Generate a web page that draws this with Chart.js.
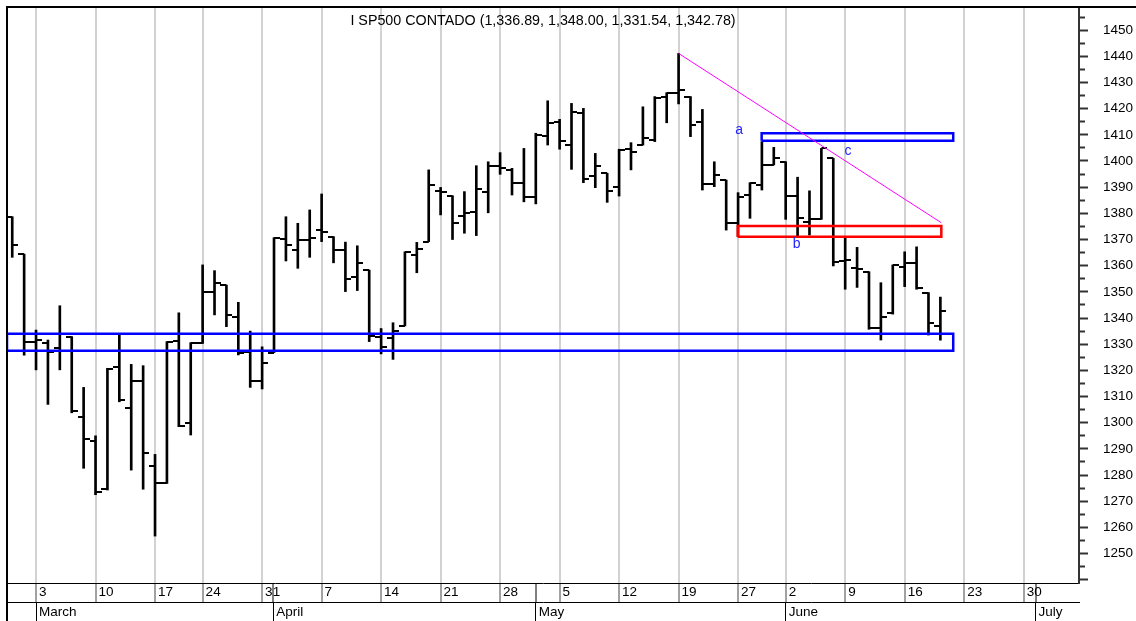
<!DOCTYPE html>
<html lang="es">
<head>
<meta charset="utf-8">
<title>I SP500 CONTADO</title>
<script src="https://cdn.jsdelivr.net/npm/chart.js@4.4.1/dist/chart.umd.min.js"></script>
<style>
  html, body { margin: 0; padding: 0; background: #ffffff; }
  #grafico { display: block; }
</style>
</head>
<body>
<canvas id="grafico" width="1136" height="621"></canvas>
<script>
// Sesiones diarias (0 = 1 de marzo), OHLC
const aperturas = [1378.5, 1364.4, 1331.0, 1330.3, 1328.5, 1332.9, 1302.1, 1293.0, 1274.5, 1321.2,
  1305.5, 1316.1, 1283.6, 1276.8, 1331.3, 1300.0, 1330.3, 1349.8, 1352.6, 1340.5,
  1327.1, 1316.0, 1326.8, 1370.2, 1366.0, 1370.0, 1373.6, 1371.1, 1366.0, 1355.8,
  1358.3, 1332.9, 1332.2, 1337.0, 1364.1, 1369.2, 1388.7, 1386.7, 1379.0, 1380.6,
  1388.3, 1398.1, 1396.6, 1391.5, 1386.2, 1409.5, 1415.0, 1406.1, 1418.2, 1394.3,
  1395.3, 1389.9, 1404.5, 1406.1, 1408.0, 1424.6, 1426.1, 1424.6, 1415.0, 1391.2,
  1392.7, 1376.2, 1387.0, 1390.8, 1398.5, 1399.7, 1386.6, 1376.8, 1377.7, 1401.0,
  1361.9, 1359.2, 1357.7, 1336.1, 1342.0, 1359.6, 1361.1, 1349.7, 1336.89];
const maximos = [1378.7, 1364.4, 1335.4, 1331.6, 1344.7, 1332.9, 1313.5, 1295.0, 1320.8, 1333.9,
  1322.3, 1321.8, 1287.9, 1331.0, 1342.0, 1330.6, 1360.3, 1358.1, 1352.6, 1346.0,
  1335.0, 1329.0, 1370.7, 1378.7, 1376.2, 1381.3, 1387.4, 1371.1, 1369.0, 1367.6,
  1358.3, 1336.0, 1338.2, 1365.3, 1368.9, 1396.6, 1389.9, 1386.7, 1388.3, 1398.2,
  1399.7, 1403.2, 1397.2, 1404.8, 1410.6, 1423.0, 1415.9, 1422.0, 1420.1, 1402.9,
  1395.3, 1404.5, 1407.0, 1420.7, 1424.6, 1426.1, 1441.1, 1424.6, 1419.7, 1399.7,
  1392.7, 1387.9, 1391.7, 1407.4, 1405.2, 1399.7, 1393.8, 1388.6, 1404.8, 1401.0,
  1371.1, 1367.0, 1357.7, 1353.5, 1360.3, 1365.3, 1367.2, 1349.7, 1348.00];
const minimos = [1363.2, 1325.8, 1320.2, 1307.0, 1320.2, 1303.8, 1282.6, 1272.5, 1274.3, 1308.0,
  1281.9, 1274.6, 1256.7, 1276.8, 1298.5, 1295.3, 1330.3, 1341.2, 1336.7, 1325.9,
  1313.5, 1312.9, 1326.8, 1361.8, 1359.0, 1363.2, 1369.2, 1361.1, 1350.1, 1350.5,
  1331.0, 1326.3, 1324.2, 1337.0, 1357.3, 1369.2, 1379.4, 1370.0, 1372.4, 1371.5,
  1380.2, 1394.9, 1387.0, 1384.4, 1383.6, 1406.1, 1404.5, 1396.8, 1391.7, 1389.8,
  1384.2, 1386.6, 1396.6, 1406.1, 1407.4, 1414.6, 1421.8, 1409.3, 1388.9, 1390.2,
  1373.6, 1371.1, 1378.1, 1388.9, 1398.5, 1377.7, 1371.3, 1371.7, 1377.7, 1359.9,
  1351.0, 1351.7, 1335.7, 1331.6, 1341.5, 1352.0, 1351.0, 1333.5, 1331.54];
const cierres = [1368.0, 1331.0, 1331.5, 1327.1, 1327.5, 1304.5, 1293.6, 1273.5, 1320.5, 1308.7,
  1316.1, 1288.3, 1276.8, 1331.0, 1298.8, 1330.3, 1350.1, 1353.3, 1341.2, 1326.5,
  1316.0, 1322.9, 1370.7, 1367.9, 1369.8, 1370.7, 1373.0, 1366.0, 1354.8, 1361.1,
  1333.1, 1328.8, 1335.2, 1365.3, 1366.3, 1390.8, 1388.3, 1376.2, 1380.2, 1389.2,
  1398.1, 1397.2, 1391.5, 1386.4, 1409.9, 1414.4, 1407.7, 1418.8, 1393.0, 1398.1,
  1388.5, 1404.2, 1403.5, 1408.9, 1424.2, 1426.1, 1427.1, 1413.7, 1391.2, 1394.6,
  1376.2, 1386.4, 1391.5, 1398.5, 1401.0, 1386.6, 1378.1, 1377.7, 1404.8, 1361.5,
  1362.2, 1358.6, 1336.1, 1340.3, 1360.3, 1361.1, 1351.3, 1338.2, 1342.78];

// lineas semanales del eje de fechas
const semanasIdx = [2, 7, 12, 16, 21, 26, 31, 36, 41, 46, 51, 56, 61, 65, 70, 75, 80, 85];
const semanasTxt = ['3', '10', '17', '24', '31', '7', '14', '21', '28', '5', '12', '19', '27', '2', '9', '16', '23', '30'];
// separadores de mes
const mesesIdx = [2, 21.94, 44, 65, 86];
const mesesTxt = ['March', 'April', 'May', 'June', 'July'];

// zonas dibujadas: [desde, hasta, inferior, superior]
const zonaSoporte = [-0.44, 79.08, 1327.5, 1334.0];
const zonaAzul = [62.98, 79.08, 1407.75, 1410.6];
const zonaRoja = [60.97, 78.08, 1371.1, 1375.2];
// directriz bajista
const directrizX = [56, 78.08];
const directrizY = [1441.1, 1376.4];
// letras a, b, c
const letras = ['a', 'b', 'c'];
const letrasX = [61.08, 65.92, 70.24];
const letrasY = [1410.3, 1366.6, 1402.3];

const titulo = 'I SP500 CONTADO (1,336.89, 1,348.00, 1,331.54, 1,342.78)';
const fuente = 'Arial, "Liberation Sans", Helvetica, sans-serif';

Chart.defaults.font.family = fuente;
Chart.defaults.color = '#000';

function caja(z) {
  return [
    {x: z[0], y: z[2]}, {x: z[1], y: z[2]}, {x: z[1], y: z[3]},
    {x: z[0], y: z[3]}, {x: z[0], y: z[2]}
  ];
}

// marca horizontal de apertura (izquierda) o cierre (derecha)
function marca(lado) {
  const c = document.createElement('canvas');
  c.width = 12;
  c.height = 2;
  const g = c.getContext('2d');
  g.fillStyle = '#000';
  g.fillRect(lado === 'izq' ? 0 : 6, 0, 6, 2);
  return c;
}

const ticksFecha = semanasIdx.concat([21.94, 44, 86]).sort((a, b) => a - b);

const marco = {
  id: 'marco',
  afterDatasetsDraw(chart) {
    const {ctx} = chart;
    const xs = chart.scales.x;
    const ys = chart.scales.y;
    ctx.save();
    ctx.font = '14px ' + fuente;
    ctx.fillStyle = '#2424ff';
    ctx.textAlign = 'center';
    ctx.textBaseline = 'alphabetic';
    letras.forEach((t, i) => {
      ctx.fillText(t, xs.getPixelForValue(letrasX[i]), ys.getPixelForValue(letrasY[i]));
    });
    ctx.restore();
  },
  afterDraw(chart) {
    const {ctx, chartArea, width, height} = chart;
    ctx.save();
    ctx.strokeStyle = '#000';
    ctx.lineWidth = 2;
    ctx.beginPath();
    ctx.moveTo(chartArea.left, height);
    ctx.lineTo(chartArea.left, chartArea.top);
    ctx.lineTo(width, chartArea.top);
    ctx.stroke();
    ctx.font = '14.3px ' + fuente;
    ctx.fillStyle = '#000';
    ctx.textAlign = 'center';
    ctx.textBaseline = 'middle';
    ctx.fillText(titulo, (chartArea.left + chartArea.right) / 2, chartArea.top + 14);
    ctx.restore();
  }
};

const lineaZona = (z, color, orden) => ({
  type: 'line',
  data: caja(z),
  borderColor: color,
  borderWidth: 2.5,
  borderJoinStyle: 'miter',
  pointRadius: 0,
  fill: false,
  tension: 0,
  order: orden
});

new Chart(document.getElementById('grafico'), {
  type: 'bar',
  data: {
    datasets: [
      {
        type: 'bar',
        data: maximos.map((h, i) => ({x: i, y: [minimos[i], h]})),
        backgroundColor: '#000',
        borderWidth: 0,
        barThickness: 2,
        grouped: false,
        order: 3
      },
      {
        type: 'scatter',
        data: aperturas.map((v, i) => ({x: i, y: v})),
        pointStyle: marca('izq'),
        pointRadius: 3,
        pointHoverRadius: 3,
        order: 2
      },
      {
        type: 'scatter',
        data: cierres.map((v, i) => ({x: i, y: v})),
        pointStyle: marca('der'),
        pointRadius: 3,
        pointHoverRadius: 3,
        order: 2
      },
      lineaZona(zonaSoporte, '#0000ff', 1),
      lineaZona(zonaAzul, '#0000ff', 1),
      lineaZona(zonaRoja, '#ff0000', 1),
      {
        type: 'line',
        data: directrizX.map((x, i) => ({x: x, y: directrizY[i]})),
        borderColor: '#ff00ff',
        borderWidth: 1,
        pointRadius: 0,
        fill: false,
        order: 0
      }
    ]
  },
  options: {
    responsive: false,
    animation: false,
    events: [],
    layout: { padding: { left: 7, top: 7, right: 0, bottom: 0 } },
    plugins: {
      legend: { display: false },
      tooltip: { enabled: false }
    },
    scales: {
      x: {
        type: 'linear',
        position: 'bottom',
        weight: 0,
        min: -0.44,
        max: 89.65,
        bounds: 'data',
        offset: false,
        afterBuildTicks: s => { s.ticks = ticksFecha.map(v => ({value: v})); },
        afterFit: s => { s.height = 19; s.paddingLeft = 0; s.paddingRight = 0; },
        grid: {
          offset: false,
          lineWidth: 2,
          color: c => semanasIdx.includes(c.tick.value) ? '#d2d2d2' : 'rgba(0,0,0,0)',
          drawTicks: true,
          tickLength: 19,
          tickWidth: 1,
          tickColor: c => semanasIdx.includes(c.tick.value) ? '#444' : '#000'
        },
        border: { display: true, color: '#000', width: 1 },
        ticks: {
          autoSkip: false,
          maxRotation: 0,
          minRotation: 0,
          align: 'start',
          labelOffset: 3,
          padding: -17.9,
          font: { size: 13.5 },
          callback: v => {
            const k = semanasIdx.indexOf(v);
            return k >= 0 ? semanasTxt[k] : '';
          }
        }
      },
      xMes: {
        type: 'linear',
        position: 'bottom',
        weight: 1,
        min: -0.44,
        max: 89.65,
        bounds: 'data',
        offset: false,
        afterBuildTicks: s => { s.ticks = mesesIdx.map(v => ({value: v})); },
        afterFit: s => { s.height = 19; s.paddingLeft = 0; s.paddingRight = 0; },
        grid: {
          offset: false,
          drawOnChartArea: false,
          drawTicks: true,
          tickLength: 19,
          tickWidth: 1,
          tickColor: '#000'
        },
        border: { display: true, color: '#000', width: 1 },
        ticks: {
          autoSkip: false,
          maxRotation: 0,
          minRotation: 0,
          align: 'start',
          labelOffset: 3,
          padding: -17.3,
          font: { size: 13.5 },
          callback: v => {
            const k = mesesIdx.indexOf(v);
            return k >= 0 ? mesesTxt[k] : '';
          }
        }
      },
      y: {
        type: 'linear',
        position: 'right',
        min: 1238.77,
        max: 1458.83,
        beginAtZero: false,
        afterFit: s => { s.width = 57; s.paddingTop = 0; s.paddingBottom = 0; },
        grid: {
          drawOnChartArea: false,
          drawTicks: true,
          tickLength: 9,
          tickWidth: 2,
          tickColor: '#333',
          tickBorderDash: c => (c.tick && c.tick.value % 10 !== 0) ? [5, 30] : []
        },
        border: { display: true, color: '#333', width: 2 },
        ticks: {
          stepSize: 5,
          includeBounds: false,
          autoSkip: false,
          padding: 15,
          font: { size: 13.5 },
          callback: v => (v % 10 === 0 && v >= 1250) ? String(v) : ''
        }
      }
    }
  },
  plugins: [marco]
});
</script>
</body>
</html>
